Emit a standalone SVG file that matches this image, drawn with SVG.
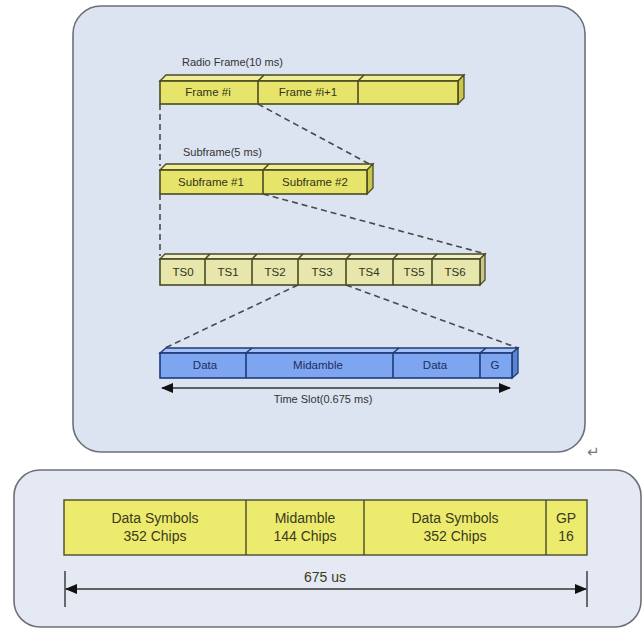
<svg xmlns="http://www.w3.org/2000/svg" width="644" height="629" viewBox="0 0 644 629">
  <defs>
    <style>
      .panel { fill: #dce3f1; stroke: #6e7078; stroke-width: 1.6; }
      .panel2 { fill: #e5e9f4; stroke: #6e7078; stroke-width: 1.6; }
      .ylw { fill: #e6e46a; stroke: #4a4a22; stroke-width: 1.6; }
      .ylw-top { fill: #efee96; stroke: #4a4a22; stroke-width: 1.3; }
      .ylw-side { fill: #c9c84c; stroke: #4a4a22; stroke-width: 1.3; }
      .pale { fill: #e6e6ad; stroke: #4a4a22; stroke-width: 1.6; }
      .pale-top { fill: #f0f0c8; stroke: #4a4a22; stroke-width: 1.3; }
      .pale-side { fill: #c8c88c; stroke: #4a4a22; stroke-width: 1.3; }
      .blu { fill: #7ea5ef; stroke: #1f3a78; stroke-width: 1.6; }
      .blu-top { fill: #a6c2f5; stroke: #1f3a78; stroke-width: 1.3; }
      .blu-side { fill: #5a84d4; stroke: #1f3a78; stroke-width: 1.3; }
      .box { fill: #eceb6e; stroke: #4a4a2a; stroke-width: 1.4; }
      .dash { fill: none; stroke: #4a4a4a; stroke-width: 1.6; stroke-dasharray: 6 4; }
      .dim { fill: none; stroke: #333; stroke-width: 1.4; }
      text { font-family: "Liberation Sans", Arial, sans-serif; }
      .cap { font-size: 11px; fill: #333; }
      .lbl { font-size: 11.5px; fill: #333318; text-anchor: middle; }
      .blbl { font-size: 11.5px; fill: #1d2e5c; text-anchor: middle; }
      .big { font-size: 14px; fill: #3a3a20; text-anchor: middle; }
    </style>
    <marker id="ah" viewBox="0 0 12 10" refX="11" refY="5" markerWidth="12" markerHeight="10" markerUnits="userSpaceOnUse" orient="auto-start-reverse">
      <path d="M0,0 L12,5 L0,10 z" fill="#111"/>
    </marker>
  </defs>

  <rect width="644" height="629" fill="#fff"/>

  <!-- panels -->
  <rect class="panel" x="73" y="6" width="512" height="446" rx="28"/>
  <rect class="panel2" x="14" y="470" width="627" height="157" rx="26"/>
  <text x="587" y="457" font-size="15" fill="#777" style="font-family:'DejaVu Sans',sans-serif">↵</text>

  <!-- connectors -->
  <g id="connectors">
    <line class="dash" x1="160" y1="104" x2="160" y2="166"/>
    <line class="dash" x1="160" y1="194" x2="160" y2="256"/>
    <line class="dash" x1="258" y1="104" x2="373" y2="166"/>
    <line class="dash" x1="263" y1="194" x2="486" y2="254"/>
    <line class="dash" x1="298" y1="285" x2="165" y2="348"/>
    <line class="dash" x1="346" y1="285" x2="518" y2="348"/>
  </g>

  <!-- radio frame -->
  <g id="radio-frame">
    <text class="cap" x="182" y="66">Radio Frame(10 ms)</text>
    <polygon class="ylw-top" points="160,81 166,75 464,75 458,81"/>
    <polygon class="ylw-side" points="458,81 464,75 464,98 458,104"/>
    <rect class="ylw" x="160" y="81" width="298" height="23"/>
    <line class="ylw" x1="258" y1="81" x2="258" y2="104"/>
    <line class="ylw" x1="358" y1="81" x2="358" y2="104"/>
    <line class="ylw" x1="258" y1="81" x2="264" y2="75"/>
    <line class="ylw" x1="358" y1="81" x2="364" y2="75"/>
    <text class="lbl" x="208" y="96">Frame #i</text>
    <text class="lbl" x="308" y="96">Frame #i+1</text>
  </g>

  <!-- subframe -->
  <g id="subframe">
    <text class="cap" x="183" y="156">Subframe(5 ms)</text>
    <polygon class="ylw-top" points="160,170 166,164 373,164 367,170"/>
    <polygon class="ylw-side" points="367,170 373,164 373,188 367,194"/>
    <rect class="ylw" x="160" y="170" width="207" height="24"/>
    <line class="ylw" x1="263" y1="170" x2="263" y2="194"/>
    <line class="ylw" x1="263" y1="170" x2="269" y2="164"/>
    <text class="lbl" x="211" y="186">Subframe #1</text>
    <text class="lbl" x="315" y="186">Subframe #2</text>
  </g>

  <!-- time slots -->
  <g id="time-slots">
    <polygon class="pale-top" points="160,259 165,254 485,254 480,259"/>
    <polygon class="pale-side" points="480,259 485,254 485,280 480,285"/>
    <rect class="pale" x="160" y="259" width="320" height="26"/>
    <g class="pale">
      <line x1="205" y1="259" x2="205" y2="285"/><line x1="205" y1="259" x2="210" y2="254"/>
      <line x1="252" y1="259" x2="252" y2="285"/><line x1="252" y1="259" x2="257" y2="254"/>
      <line x1="298" y1="259" x2="298" y2="285"/><line x1="298" y1="259" x2="303" y2="254"/>
      <line x1="346" y1="259" x2="346" y2="285"/><line x1="346" y1="259" x2="351" y2="254"/>
      <line x1="393" y1="259" x2="393" y2="285"/><line x1="393" y1="259" x2="398" y2="254"/>
      <line x1="432" y1="259" x2="432" y2="285"/><line x1="432" y1="259" x2="437" y2="254"/>
    </g>
    <text class="lbl" x="183" y="276">TS0</text>
    <text class="lbl" x="228" y="276">TS1</text>
    <text class="lbl" x="275" y="276">TS2</text>
    <text class="lbl" x="322" y="276">TS3</text>
    <text class="lbl" x="369" y="276">TS4</text>
    <text class="lbl" x="414" y="276">TS5</text>
    <text class="lbl" x="455" y="276">TS6</text>
  </g>

  <!-- time slot burst -->
  <g id="burst">
    <polygon class="blu-top" points="160,353 166,348 518,348 512,353"/>
    <polygon class="blu-side" points="512,353 518,348 518,373 512,378"/>
    <rect class="blu" x="160" y="353" width="352" height="25"/>
    <g class="blu">
      <line x1="246" y1="353" x2="246" y2="378"/><line x1="246" y1="353" x2="252" y2="348"/>
      <line x1="393" y1="353" x2="393" y2="378"/><line x1="393" y1="353" x2="399" y2="348"/>
      <line x1="480" y1="353" x2="480" y2="378"/><line x1="480" y1="353" x2="486" y2="348"/>
    </g>
    <text class="blbl" x="205" y="369">Data</text>
    <text class="blbl" x="318" y="369">Midamble</text>
    <text class="blbl" x="435" y="369">Data</text>
    <text class="blbl" x="495" y="369">G</text>
    <line class="dim" x1="162" y1="388" x2="510" y2="388" marker-start="url(#ah)" marker-end="url(#ah)"/>
    <text class="cap" x="323" y="403" text-anchor="middle">Time Slot(0.675 ms)</text>
  </g>

  <!-- chip-level burst -->
  <g id="chips">
    <rect class="box" x="64" y="500" width="523" height="55"/>
    <line class="box" x1="246" y1="500" x2="246" y2="555"/>
    <line class="box" x1="364" y1="500" x2="364" y2="555"/>
    <line class="box" x1="546" y1="500" x2="546" y2="555"/>
    <text class="big" x="155" y="523">Data Symbols</text>
    <text class="big" x="155" y="541">352 Chips</text>
    <text class="big" x="305" y="523">Midamble</text>
    <text class="big" x="305" y="541">144 Chips</text>
    <text class="big" x="455" y="523">Data Symbols</text>
    <text class="big" x="455" y="541">352 Chips</text>
    <text class="big" x="566" y="523">GP</text>
    <text class="big" x="566" y="541">16</text>
  </g>

  <g id="duration">
    <line class="dim" x1="65" y1="571" x2="65" y2="607"/>
    <line class="dim" x1="587" y1="571" x2="587" y2="607"/>
    <line class="dim" x1="66" y1="589" x2="586" y2="589" marker-start="url(#ah)" marker-end="url(#ah)"/>
    <text class="big" x="325" y="582">675 us</text>
  </g>
</svg>
